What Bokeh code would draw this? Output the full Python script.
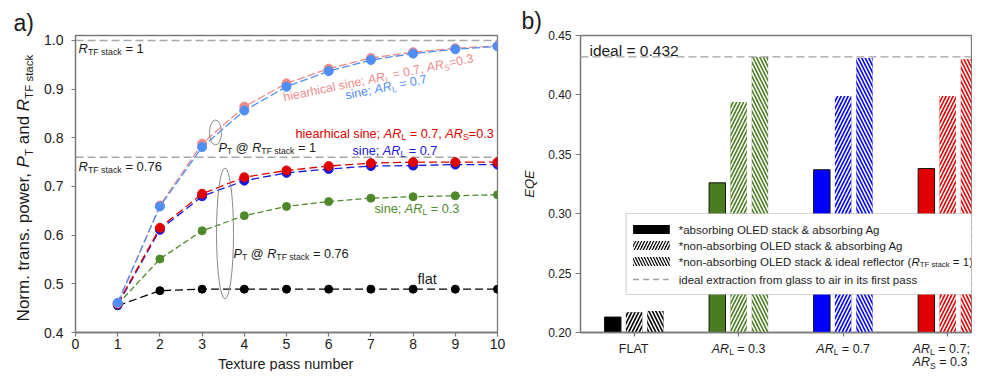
import math
from bokeh.plotting import figure
from bokeh.layouts import row, column
from bokeh.models import (Range1d, FixedTicker, NumeralTickFormatter, Label, Span,
                          BoxAnnotation, Arrow, CustomJSTickFormatter)
from bokeh.embed import file_html
from bokeh.resources import INLINE

# ---------------- data: panel a ----------------
texture_pass = [1, 2, 3, 4, 5, 6, 7, 8, 9, 10]
pt_hier_rtf1 = [0.460, 0.661, 0.788, 0.864, 0.912, 0.942, 0.964, 0.976, 0.984, 0.989]
pt_sine07_rtf1 = [0.461, 0.659, 0.781, 0.856, 0.905, 0.937, 0.960, 0.973, 0.982, 0.988]
pt_hier_rtf076 = [0.459, 0.615, 0.685, 0.719, 0.733, 0.742, 0.748, 0.750, 0.750, 0.750]
pt_sine07_rtf076 = [0.457, 0.611, 0.680, 0.712, 0.728, 0.736, 0.742, 0.743, 0.745, 0.745]
pt_sine03_rtf076 = [0.458, 0.551, 0.609, 0.640, 0.659, 0.669, 0.676, 0.679, 0.681, 0.683]
pt_flat = [0.455, 0.486, 0.489, 0.489, 0.489, 0.489, 0.489, 0.489, 0.489, 0.489]
r_tf_levels = [1.0, 0.76]
a_xticks = [0, 1, 2, 3, 4, 5, 6, 7, 8, 9, 10]
a_yticks = [0.4, 0.5, 0.6, 0.7, 0.8, 0.9, 1.0]

# ---------------- data: panel b ----------------
case_pos = [1, 2, 3, 4]
eqe_abs_oled_abs_ag = [0.213, 0.326, 0.337, 0.338]
eqe_nonabs_oled_abs_ag = [0.217, 0.394, 0.399, 0.399]
eqe_nonabs_oled_ideal = [0.218, 0.432, 0.431, 0.430]
ideal_eqe = 0.432
b_yticks = [0.20, 0.25, 0.30, 0.35, 0.40, 0.45]
case_labels = [
    [[("FLAT", "n")]],
    [[("AR", "i"), ("L", "sub"), (" = 0.3", "n")]],
    [[("AR", "i"), ("L", "sub"), (" = 0.7", "n")]],
    [[("AR", "i"), ("L", "sub"), (" = 0.7;", "n")], [("AR", "i"), ("S", "sub"), (" = 0.3", "n")]],
]
case_colors = ["#000000", "#4A7D20", "#0000FF", "#E00000"]

FONT = "Liberation Sans"
TXT = "#1c1c1c"
AXC = "#7a7a7a"

W = {' ': 278, '!': 278, '"': 355, '#': 556, '$': 556, '%': 889, '&': 667, "'": 191, '(': 333,
     ')': 333, '*': 389, '+': 584, ',': 278, '-': 333, '.': 278, '/': 278, ':': 278, ';': 278,
     '<': 584, '=': 584, '>': 584, '?': 556, '@': 1015,
     'A': 667, 'B': 667, 'C': 722, 'D': 722, 'E': 667, 'F': 611, 'G': 778, 'H': 722, 'I': 278,
     'J': 500, 'K': 667, 'L': 556, 'M': 833, 'N': 722, 'O': 778, 'P': 667, 'Q': 778, 'R': 722,
     'S': 667, 'T': 611, 'U': 722, 'V': 667, 'W': 944, 'X': 667, 'Y': 667, 'Z': 611,
     'a': 556, 'b': 556, 'c': 500, 'd': 556, 'e': 556, 'f': 278, 'g': 556, 'h': 556, 'i': 222,
     'j': 222, 'k': 500, 'l': 222, 'm': 833, 'n': 556, 'o': 556, 'p': 556, 'q': 556, 'r': 333,
     's': 500, 't': 278, 'u': 556, 'v': 500, 'w': 722, 'x': 500, 'y': 500, 'z': 500}
SUB = 0.68


def sw(t, size):
    return sum(W.get(c, 556) for c in t) * size / 1000.0


def seg_width(segs, size):
    return sum(sw(t, size * SUB if k == "sub" else size) for t, k in segs)


def rich(p, x, y, segs, size, color, angle_deg=0.0, align="left"):
    """Text with italic / subscript runs; (x, y) is the start (or centre) of the text line's middle."""
    a = math.radians(angle_deg)
    ca, sa = math.cos(a), math.sin(a)
    items, total = [], 0.0
    for t, k in segs:
        sz = size * SUB if k == "sub" else size
        items.append((t, k, sz, total))
        total += sw(t, sz)
    start = 0.0 if align == "left" else (-total / 2 if align == "center" else -total)
    for t, k, sz, adv in items:
        lead = len(t) - len(t.lstrip(" "))
        txt = t.strip(" ")
        if not txt:
            continue
        d = start + adv + sw(" " * lead, sz)
        ox, oy = d * ca, d * sa
        if k == "sub":
            s = size * 0.30
            ox += s * sa
            oy -= s * ca
        p.add_layout(Label(x=x, y=y, x_offset=ox, y_offset=oy, text=txt, angle=a,
                           text_font=FONT, text_font_size=f"{sz:.2f}px",
                           text_font_style="italic" if k == "i" else "normal",
                           text_color=color, text_align="left", text_baseline="middle"))


def style(p):
    for ax in list(p.xaxis) + list(p.yaxis):
        ax.axis_line_color = AXC
        ax.axis_line_width = 1.3
        ax.major_tick_line_color = AXC
        ax.major_tick_line_width = 1.2
        ax.minor_tick_line_color = None
        ax.major_label_text_font = FONT
        ax.major_label_text_color = TXT
        ax.major_tick_in = 0
    p.grid.visible = False
    p.outline_line_color = AXC
    p.outline_line_width = 1.3
    p.background_fill_color = "white"
    p.border_fill_color = "white"


def strip(x_range, y_range, w, h):
    f = figure(width=w, height=h, x_range=x_range, y_range=y_range,
               output_backend="svg", toolbar_location=None, tools="",
               x_axis_location=None, y_axis_location=None,
               min_border_left=0, min_border_right=0, min_border_top=0, min_border_bottom=0)
    f.outline_line_color = None
    f.grid.visible = False
    f.background_fill_color = "white"
    f.border_fill_color = "white"
    return f


# ---------------- panel a ----------------
def fxa(px):
    return (px - 75) / 42.2


def fya(py):
    return 0.4 + (332 - py) / 486.67


pa = figure(width=479, height=355, x_range=Range1d(0, 10), y_range=Range1d(0.4, fya(35)),
            output_backend="svg", toolbar_location=None, tools="",
            min_border_left=37, min_border_right=20, min_border_top=35, min_border_bottom=23)
style(pa)
pa.xaxis.ticker = FixedTicker(ticks=a_xticks)
pa.yaxis.ticker = FixedTicker(ticks=a_yticks)
pa.yaxis.formatter = NumeralTickFormatter(format="0.0")
pa.xaxis.major_label_text_font_size = "14px"
pa.yaxis.major_label_text_font_size = "14px"
pa.xaxis.major_tick_out = 4
pa.yaxis.major_tick_out = 4
pa.xaxis.major_label_standoff = 2
pa.yaxis.major_label_standoff = 8

for lev in r_tf_levels:
    pa.add_layout(Span(location=lev, dimension="width", line_color="#A8A8A8",
                       line_dash="8 4", line_width=1.4, level="underlay"))

series = [
    (pt_flat, "#000000", 8, "8 4"),
    (pt_sine03_rtf076, "#4E8A2B", 8, "6 3"),
    (pt_sine07_rtf076, "#1818E0", 9, "8 4"),
    (pt_hier_rtf076, "#E00000", 9, "8 4"),
    (pt_hier_rtf1, "#EE8A8A", 9, "8 3"),
    (pt_sine07_rtf1, "#4F8EF5", 9, "8 3"),
]
for ys, col, sz, dash in series:
    pa.line(texture_pass, ys, line_color=col, line_dash=dash, line_width=1.3)
    pa.scatter(texture_pass, ys, size=sz, fill_color=col, line_color=col)

# ellipses grouping the P_T curves
pa.ellipse(x=[fxa(215)], y=[fya(132)], width=[12 / 42.2], height=[25 / 486.67],
           fill_color=None, line_color="#8a8a8a", line_width=1)
pa.ellipse(x=[fxa(224.5)], y=[fya(233)], width=[17 / 42.2], height=[131 / 486.67],
           fill_color=None, line_color="#8a8a8a", line_width=1)

R_seg = [("R", "i"), ("TF stack", "sub")]
AR_L07 = [("sine; ", "n"), ("AR", "i"), ("L", "sub"), (" = 0.7", "n")]
hier_seg = [("hiearhical sine; ", "n"), ("AR", "i"), ("L", "sub"), (" = 0.7, ", "n"),
            ("AR", "i"), ("S", "sub"), ("=0.3", "n")]
rich(pa, fxa(78), fya(48), R_seg + [(" = 1", "n")], 13, TXT)
rich(pa, fxa(78), fya(166), R_seg + [(" = 0.76", "n")], 13, TXT)
rich(pa, fxa(218), fya(147), [("P", "i"), ("T", "sub"), (" @ ", "n")] + R_seg + [(" = 1", "n")],
     12.7, TXT)
rich(pa, fxa(233), fya(253), [("P", "i"), ("T", "sub"), (" @ ", "n")] + R_seg + [(" = 0.76", "n")],
     12.7, TXT)
rich(pa, fxa(295), fya(133), hier_seg, 12.7, "#E00000")
rich(pa, fxa(352), fya(150), AR_L07, 12.7, "#1818E0")
rich(pa, fxa(374), fya(208), [("sine; ", "n"), ("AR", "i"), ("L", "sub"), (" = 0.3", "n")],
     12.7, "#4E8A2B")
rich(pa, fxa(417), fya(278), [("flat", "n")], 14.5, TXT)
rich(pa, fxa(283), fya(97), hier_seg, 12.4, "#EE8A8A", angle_deg=11.7)
rich(pa, fxa(345), fya(95), AR_L07, 12.4, "#4F8EF5", angle_deg=11.5)

# left strip: panel letter + y-axis title (page pixel coordinates)
stripA = strip(Range1d(0, 38), Range1d(371, 0), 38, 371)
rich(stripA, 13, 22, [("a)", "n")], 23, TXT)
rich(stripA, 23, 187.5, [("Norm. trans. power, ", "n"), ("P", "i"), ("T", "sub"), (" and ", "n")] + R_seg,
     17, TXT, angle_deg=90, align="center")

# strip below panel a (its frame is aligned with panel a's frame): x-axis title
xlabA = strip(Range1d(0, 10), Range1d(371, 355), 479, 16)
rich(xlabA, fxa(286), 363, [("Texture pass number", "n")], 14.5, TXT, align="center")


# ---------------- panel b ----------------
def fxb(px):
    return 1 + (px - 631) / 105.333


def pxb(x):
    return 631 + (x - 1) * 105.333


def fyb(py):
    return 0.2 + (332 - py) / 1188.0


pb = figure(width=427, height=341, x_range=Range1d(fxb(577), fxb(971)), y_range=Range1d(0.2, 0.45),
            output_backend="svg", toolbar_location=None, tools="",
            min_border_left=32, min_border_right=1, min_border_top=35, min_border_bottom=9)
style(pb)
pb.yaxis.ticker = FixedTicker(ticks=b_yticks)
pb.yaxis.formatter = NumeralTickFormatter(format="0.00")
pb.yaxis.major_label_text_font_size = "12px"
pb.yaxis.major_tick_out = 5
pb.yaxis.major_label_standoff = 4
pb.xaxis.ticker = FixedTicker(ticks=case_pos)
pb.xaxis.formatter = CustomJSTickFormatter(code="return ''")
pb.xaxis.major_label_text_font_size = "1px"
pb.xaxis.major_label_standoff = 0
pb.xaxis.major_tick_out = 4

offs = [-0.204, 0.0, 0.204]
bw = 0.157
pb.vbar(x=[c + offs[0] for c in case_pos], top=eqe_abs_oled_abs_ag, bottom=0, width=bw,
        fill_color=case_colors, line_color="#111111", line_width=1)
pb.vbar(x=[c + offs[1] for c in case_pos], top=eqe_nonabs_oled_abs_ag, bottom=0, width=bw,
        fill_color=case_colors, line_color=None, hatch_pattern="/", hatch_color="white",
        hatch_scale=7, hatch_weight=1.6)
pb.vbar(x=[c + offs[2] for c in case_pos], top=eqe_nonabs_oled_ideal, bottom=0, width=bw,
        fill_color=case_colors, line_color=None, hatch_pattern="\\", hatch_color="white",
        hatch_scale=7, hatch_weight=1.6)

pb.add_layout(Span(location=ideal_eqe, dimension="width", line_color="#A0A0A0",
                   line_dash="8 4", line_width=1.4))
rich(pb, fxb(586), fyb(50), [("ideal = 0.432", "n")], 15.5, TXT)

# legend
pb.add_layout(BoxAnnotation(left=fxb(623), right=fxb(995), top=fyb(213), bottom=fyb(294),
                            fill_color="white", fill_alpha=1, line_color="#707070",
                            line_width=1.2))
leg_rows = [229, 245, 261]
leg_hatch = [None, "/", "\\"]
for ry, hp in zip(leg_rows, leg_hatch):
    kw = dict(left=fxb(630), right=fxb(667), top=fyb(ry - 4.5), bottom=fyb(ry + 4.5),
              fill_color="black", fill_alpha=1, line_color=None)
    if hp:
        kw.update(hatch_pattern=hp, hatch_color="white", hatch_scale=6, hatch_weight=1.5)
    pb.add_layout(BoxAnnotation(**kw))
pb.add_layout(Arrow(x_start=fxb(630), y_start=fyb(279), x_end=fxb(666), y_end=fyb(279),
                    start=None, end=None, line_color="#A0A0A0", line_dash="6 4", line_width=1.4))
leg_text = [
    [("*absorbing OLED stack & absorbing Ag", "n")],
    [("*non-absorbing OLED stack & absorbing Ag", "n")],
    [("*non-absorbing OLED stack & ideal reflector (", "n")] + R_seg + [(" = 1)", "n")],
    [("ideal extraction from glass to air in its first pass", "n")],
]
for ry, segs in zip([229, 245, 261, 279], leg_text):
    rich(pb, fxb(676), fyb(ry), segs, 11.5, TXT)

# strip left of panel b: panel letter + y-axis title
stripB = strip(Range1d(517, 545), Range1d(371, 0), 28, 371)
rich(stripB, 521, 20, [("b)", "n")], 23, TXT)
rich(stripB, 529, 183.5, [("EQE", "i")], 13, TXT, angle_deg=90, align="center")

# strip below panel b (frame aligned with panel b): category labels
catB = strip(Range1d(fxb(577), fxb(971)), Range1d(371, 341), 427, 30)
CAT_SIZE = 12.5
for c, lines in zip(case_pos, case_labels):
    wmax = max(seg_width(s, CAT_SIZE) for s in lines)
    if pxb(c) + wmax / 2 > 969:
        # keep the last (two-line) label inside the drawing area: left-align its lines
        x_anchor, al = fxb(969 - wmax), "left"
    else:
        x_anchor, al = c, "center"
    for li, segs in enumerate(lines):
        rich(catB, x_anchor, 348 + 13.5 * li, segs, CAT_SIZE, TXT, align=al)

layout = row(stripA, column(pa, xlabA), stripB, column(pb, catB))
open("out.html", "w").write(file_html(layout, INLINE))
